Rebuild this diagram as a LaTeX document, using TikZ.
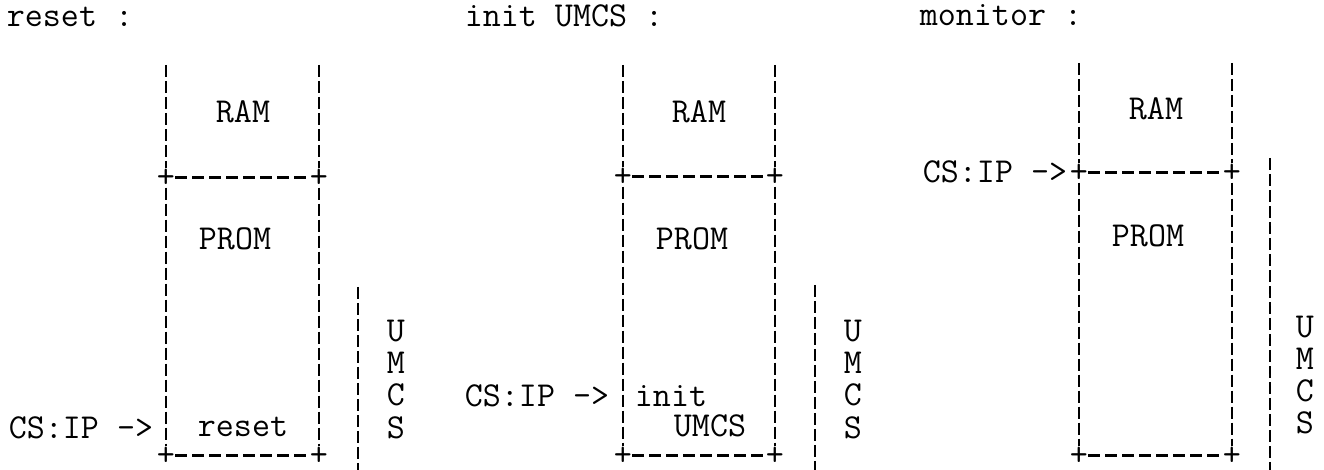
\documentclass[tikz,border=0pt]{standalone}
\usepackage{tikz}

\begin{document}
\begin{tikzpicture}[x=0.5pt,y=-0.5pt,
		lbl/.style={font=\fontsize{17.5}{20}\selectfont\ttfamily,inner sep=0pt,anchor=base},
		corner/.style={font=\fontsize{17.5}{20}\selectfont\ttfamily,inner sep=0pt},
		vline/.style={line width=0.8pt,dash pattern=on 6pt off 2pt},
		hline/.style={line width=1.5pt,dash pattern=on 6pt off 2.5pt}]
		\useasboundingbox (0,0) rectangle (1324,470);
		% reset
		\node[lbl] (title1) at (70,27) {reset :};
		\coordinate (top1l) at (166,65);
		\coordinate (top1r) at (319,65);
		\node[corner] (mid1l) at (166,178) {+};
		\node[corner] (mid1r) at (319,178) {+};
		\node[corner] (bot1l) at (166,456) {+};
		\node[corner] (bot1r) at (319,456) {+};
		\draw[vline] (top1l) -- (mid1l) (mid1l) -- (bot1l);
		\draw[vline] (top1r) -- (mid1r) (mid1r) -- (bot1r);
		\draw[hline] (mid1l) -- (mid1r);
		\draw[hline] (bot1l) -- (bot1r);
		\node[lbl] (ram1) at (243,123) {RAM};
		\node[lbl] (prom1) at (235,250) {PROM};
		\node[lbl] (reset1) at (243,437) {reset};
		\node[lbl] (csip1) at (81,438) {CS:IP ->};
		\coordinate (umtop1) at (358,287);
		\coordinate (umbot1) at (358,470);
		\draw[vline] (umtop1) -- (umbot1);
		\foreach \c [count=\i] in {U,M,C,S}
			\node[lbl] (um1\i) at (396,310+32*\i) {\c};
		% init UMCS
		\node[lbl] (title2) at (564,27) {init UMCS :};
		\coordinate (top2l) at (623,65);
		\coordinate (top2r) at (775,65);
		\node[corner] (mid2l) at (623,177) {+};
		\node[corner] (mid2r) at (775,177) {+};
		\node[corner] (bot2l) at (623,456) {+};
		\node[corner] (bot2r) at (775,456) {+};
		\draw[vline] (top2l) -- (mid2l) (mid2l) -- (bot2l);
		\draw[vline] (top2r) -- (mid2r) (mid2r) -- (bot2r);
		\draw[hline] (mid2l) -- (mid2r);
		\draw[hline] (bot2l) -- (bot2r);
		\node[lbl] (ram2) at (699,123) {RAM};
		\node[lbl] (prom2) at (692,250) {PROM};
		\node[lbl] (init2) at (671,407) {init};
		\node[lbl] (umcs2) at (710,437) {UMCS};
		\node[lbl] (csip2) at (537,407) {CS:IP ->};
		\coordinate (umtop2) at (815,285);
		\coordinate (umbot2) at (815,470);
		\draw[vline] (umtop2) -- (umbot2);
		\foreach \c [count=\i] in {U,M,C,S}
			\node[lbl] (um2\i) at (853,310+32*\i) {\c};
		% monitor
		\node[lbl] (title3) at (1001,26) {monitor :};
		\coordinate (top3l) at (1079,63);
		\coordinate (top3r) at (1232,63);
		\node[corner] (mid3l) at (1079,173) {+};
		\node[corner] (mid3r) at (1232,173) {+};
		\node[corner] (bot3l) at (1079,456) {+};
		\node[corner] (bot3r) at (1232,456) {+};
		\draw[vline] (top3l) -- (mid3l) (mid3l) -- (bot3l);
		\draw[vline] (top3r) -- (mid3r) (mid3r) -- (bot3r);
		\draw[hline] (mid3l) -- (mid3r);
		\draw[hline] (bot3l) -- (bot3r);
		\node[lbl] (ram3) at (1156,120) {RAM};
		\node[lbl] (prom3) at (1148,247) {PROM};
		\node[lbl] (csip3) at (995,183) {CS:IP ->};
		\coordinate (umtop3) at (1270,158);
		\coordinate (umbot3) at (1270,470);
		\draw[vline] (umtop3) -- (umbot3);
		\foreach \c [count=\i] in {U,M,C,S}
			\node[lbl] (um3\i) at (1305,306+32*\i) {\c};
	\end{tikzpicture}
\end{document}
